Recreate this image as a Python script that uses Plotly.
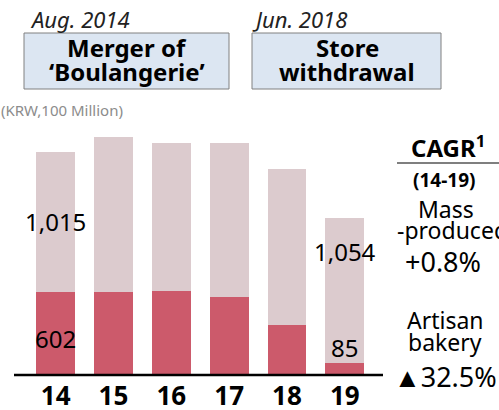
import plotly.graph_objects as go

# data
years = ["14", "15", "16", "17", "18", "19"]
artisan = [602, 600, 605, 563, 362, 85]        # artisan bakery (bottom)
mass = [1015, 1121, 1077, 1119, 1132, 1054]    # mass-produced (top)

W, H = 499, 410
L, R, T, B = 14, 116, 133, 35
PW, PH = W - L - R, H - T - B

FONT = "Noto Sans"
C_TOP = "#DCCBCE"
C_BOT = "#CC5A6B"


def px(x):
    # page pixel -> paper x
    return (x - L) / PW


def py(y):
    # page pixel -> paper y
    return (H - B - y) / PH


fig = go.Figure()
fig.add_trace(go.Bar(x=years, y=artisan, marker=dict(color=C_BOT, line=dict(width=0)),
                     name="Artisan bakery"))
fig.add_trace(go.Bar(x=years, y=mass, marker=dict(color=C_TOP, line=dict(width=0)),
                     name="Mass-produced"))

annotations = []


def txt(x, y, text, size, bold=False, italic=False, color="#000000", xref="paper", yref="paper",
        xanchor="center", yanchor="middle", yshift=0):
    s = text
    if bold:
        s = "<b>" + s + "</b>"
    if italic:
        s = "<i>" + s + "</i>"
    annotations.append(dict(x=x, y=y, xref=xref, yref=yref, text=s, showarrow=False,
                            xanchor=xanchor, yanchor=yanchor, yshift=yshift, borderpad=0,
                            font=dict(family=FONT, size=size, color=color)))


# value labels (first and last year), x given as category index
first, last = 0, len(years) - 1
txt(first, artisan[first] + mass[first] / 2, f"{mass[first]:,}", 24, xref="x", yref="y")
txt(first, artisan[first] / 2, f"{artisan[first]:,}", 24, xref="x", yref="y", yshift=-5)
txt(last, artisan[last] + mass[last] * 0.77, f"{mass[last]:,}", 24, xref="x", yref="y")
txt(last, artisan[last], f"{artisan[last]:,}", 24, xref="x", yref="y", yanchor="bottom", yshift=-2)

# header
txt(px(29), py(19), "Aug. 2014", 22, italic=True, color="#222222", xanchor="left")
txt(px(251), py(19), "Jun. 2018", 22, italic=True, color="#222222", xanchor="left")
txt(px(127), py(48), "Merger of", 24, bold=True)
txt(px(127), py(71), "‘Boulangerie’", 24, bold=True)
txt(px(347), py(48), "Store", 24, bold=True)
txt(px(347), py(71), "withdrawal", 24, bold=True)
txt(px(0), py(110), "(KRW,100 Million)", 15, color="#8C8C8C", xanchor="left")

# CAGR side panel
txt(px(448), py(146), "CAGR<sup>1</sup>", 24, bold=True)
txt(px(444), py(180), "(14-19)", 19, bold=True)
txt(px(446), py(209), "Mass", 23)
txt(px(452), py(230), "-produced", 23)
txt(px(443), py(261), "+0.8%", 27)
txt(px(445), py(320), "Artisan", 23)
txt(px(445), py(342), "bakery", 23)
txt(px(445), py(376), "▲32.5%", 27)

shapes = [
    dict(type="rect", xref="paper", yref="paper", x0=px(24), x1=px(229), y0=py(33), y1=py(89),
         fillcolor="#DCE6F2", line=dict(color="#808080", width=1), layer="below"),
    dict(type="rect", xref="paper", yref="paper", x0=px(252), x1=px(441), y0=py(33), y1=py(89),
         fillcolor="#DCE6F2", line=dict(color="#808080", width=1), layer="below"),
    dict(type="line", xref="paper", yref="paper", x0=px(397), x1=px(499), y0=py(163), y1=py(163),
         line=dict(color="#7F7F7F", width=2)),
    dict(type="line", xref="paper", yref="paper", x0=0, x1=1, y0=0, y1=0,
         line=dict(color="#000000", width=2.5)),
]

fig.update_layout(
    barmode="stack",
    bargap=0.326,
    width=W, height=H,
    margin=dict(l=L, r=R, t=T, b=B),
    plot_bgcolor="white",
    paper_bgcolor="white",
    showlegend=False,
    annotations=annotations,
    shapes=shapes,
    xaxis=dict(type="category", range=[-0.72, 5.66], showgrid=False, showline=False,
               zeroline=False, automargin=False, ticks="", ticklabelstandoff=3,
               tickfont=dict(family=FONT, size=26, color="#000000"),
               tickprefix="<b>", ticksuffix="</b>"),
    yaxis=dict(range=[0, 1752], visible=False, showgrid=False, zeroline=False,
               automargin=False),
)

# drop the default page margin so the figure sits at the window's top-left corner
fig.write_html("out.html", config={"displayModeBar": False},
               post_script="document.body.style.margin = '0';")
